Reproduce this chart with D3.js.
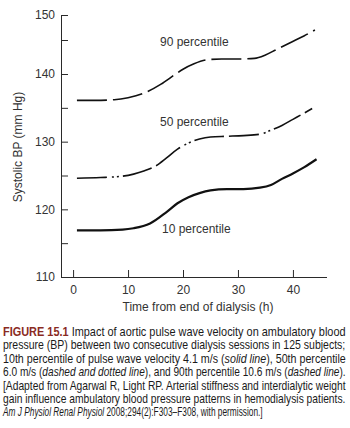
<!DOCTYPE html>
<html>
<head>
<meta charset="utf-8">
<script src="https://cdn.jsdelivr.net/npm/d3@7"></script>
<style>
  body { margin: 0; background: #fff; }
  svg { display: block; }
</style>
</head>
<body>
<div class="chart"></div>
<script>
// hours after dialysis, systolic BP (mm Hg)
const hours10 = [0.7, 5, 9, 11, 14, 17, 19, 21, 23, 25, 28, 31, 34, 36, 38, 40, 42, 44.3];
const bp10    = [116.9, 116.9, 117.0, 117.2, 117.9, 119.6, 120.9, 121.8, 122.4, 122.8, 123.0, 123.0, 123.2, 123.6, 124.5, 125.3, 126.2, 127.4];

const hours50 = [0.7, 5, 9, 11, 13, 15, 17, 19, 21, 23, 25, 28, 31, 34, 36, 38, 40, 42, 43.5];
const bp50    = [124.6, 124.7, 124.9, 125.2, 125.7, 126.4, 127.6, 128.9, 129.8, 130.4, 130.7, 130.8, 130.9, 131.1, 131.7, 132.4, 133.3, 134.2, 134.9];

const hours90 = [0.7, 4, 7.5, 10, 13, 16, 18.5, 20, 22, 24.5, 27, 30, 33, 35, 37, 39.5, 42, 44];
const bp90    = [136.1, 136.1, 136.2, 136.5, 137.2, 138.5, 139.9, 140.7, 141.5, 142.1, 142.2, 142.2, 142.3, 142.8, 143.6, 144.6, 145.8, 147.0];

const xTicks = [0, 10, 20, 30, 40];
const yTicks = [110, 115, 120, 125, 130, 135, 140, 145, 150];
const yLabels = [110, 120, 130, 140, 150];

const captionLines = [
  [["FIGURE 15.1", "fig"], [" Impact of aortic pulse wave velocity on ambulatory blood", ""]],
  [["pressure (BP) between two consecutive dialysis sessions in 125 subjects;", ""]],
  [["10th percentile of pulse wave velocity 4.1 m/s (", ""], ["solid line", "it"], ["), 50th percentile", ""]],
  [["6.0 m/s (", ""], ["dashed and dotted line", "it"], ["), and 90th percentile 10.6 m/s (", ""], ["dashed line", "it"], [").", ""]],
  [["[Adapted from Agarwal R, Light RP. Arterial stiffness and interdialytic weight", ""]],
  [["gain influence ambulatory blood pressure patterns in hemodialysis patients.", ""]],
  [["Am J Physiol Renal Physiol", "it"], [" 2008;294(2):F303\u2013F308, with permission.]", ""]]
];

const W = 350, H = 428;

const svg = d3.select(".chart")
  .append("svg")
    .attr("width", W)
    .attr("height", H);

const x = d3.scaleLinear().domain([-2.2, 46.2]).range([61, 327]);
// the printed axis is a little squeezed at the top, so use a piecewise scale
const y = d3.scaleLinear().domain([110, 140, 145, 150]).range([277, 74, 40, 15]);

const font = "'Liberation Sans', Arial, Helvetica, sans-serif";
const ink = "#2a2a2a";

// axes
const xAxis = d3.axisBottom(x).tickValues(xTicks).tickSize(-7).tickPadding(6);
const gx = svg.append("g").attr("transform", "translate(0,277)").call(xAxis);
gx.select(".domain").attr("d", "M61,0.5H327");

const yAxis = d3.axisLeft(y).tickValues(yTicks).tickSize(-7).tickPadding(6)
  .tickFormat(d => yLabels.includes(d) ? d : "");
const gy = svg.append("g").attr("transform", "translate(61,0)").call(yAxis);
gy.select(".domain").attr("d", "M0.5,15V277");

svg.selectAll(".tick line").attr("stroke", ink);
svg.selectAll(".domain").attr("stroke", ink);
svg.selectAll(".tick text")
  .attr("font-family", font)
  .attr("font-size", "12px")
  .attr("fill", "#333");
gx.selectAll(".tick text").attr("dy", "0.9em");

svg.append("text")
  .attr("transform", "translate(22,147) rotate(-90)")
  .attr("text-anchor", "middle")
  .attr("font-family", font)
  .attr("font-size", "12px")
  .attr("fill", "#333")
  .text("Systolic BP (mm Hg)");

svg.append("text")
  .attr("x", 198).attr("y", 311)
  .attr("text-anchor", "middle")
  .attr("font-family", font)
  .attr("font-size", "12px")
  .attr("fill", "#333")
  .text("Time from end of dialysis (h)");

// curves
const line = d3.line()
  .x(d => x(d[0]))
  .y(d => y(d[1]))
  .curve(d3.curveMonotoneX);

const series = [
  {pts: d3.zip(hours10, bp10), width: 2.2, dash: null, offset: 0},
  {pts: d3.zip(hours50, bp50), width: 1.6, dash: "30,5,30,5,2,3,2,4", offset: 35},
  {pts: d3.zip(hours90, bp90), width: 1.6, dash: "30,6", offset: 0}
];

svg.selectAll("path.curve")
  .data(series)
  .enter()
  .append("path")
    .attr("class", "curve")
    .attr("d", d => line(d.pts))
    .attr("fill", "none")
    .attr("stroke", "#111")
    .attr("stroke-width", d => d.width)
    .attr("stroke-dasharray", d => d.dash)
    .attr("stroke-dashoffset", d => d.offset);

// curve labels
const labels = [["90 percentile", 160, 46], ["50 percentile", 160, 126], ["10 percentile", 162, 233]];
svg.selectAll("text.lab")
  .data(labels)
  .enter()
  .append("text")
    .attr("class", "lab")
    .attr("x", d => d[1])
    .attr("y", d => d[2])
    .attr("font-family", font)
    .attr("font-size", "12px")
    .attr("fill", "#333")
    .text(d => d[0]);

// caption, justified like the book: squeeze each line horizontally to fit
const capFont = "'Liberation Sans Narrow', 'Arial Narrow', 'Liberation Sans', sans-serif";
captionLines.forEach((parts, i) => {
  const last = i === captionLines.length - 1;
  const target = last ? 260 : 343;
  const t = svg.append("text")
    .attr("x", 0)
    .attr("y", 0)
    .attr("font-family", capFont)
    .attr("font-size", "12px")
    .attr("fill", "#1a1a1a");
  parts.forEach(p => {
    const s = t.append("tspan").text(p[0]);
    if (p[1] === "it") s.attr("font-style", "italic");
    if (p[1] === "fig") s.attr("font-weight", "bold").attr("fill", "#8a2b1f")
      .attr("font-family", "'Liberation Sans', sans-serif");
  });
  const w = t.node().getComputedTextLength();
  t.attr("transform", `translate(3,${336 + i * 13.4}) scale(${target / w},1)`);
});
</script>
</body>
</html>
